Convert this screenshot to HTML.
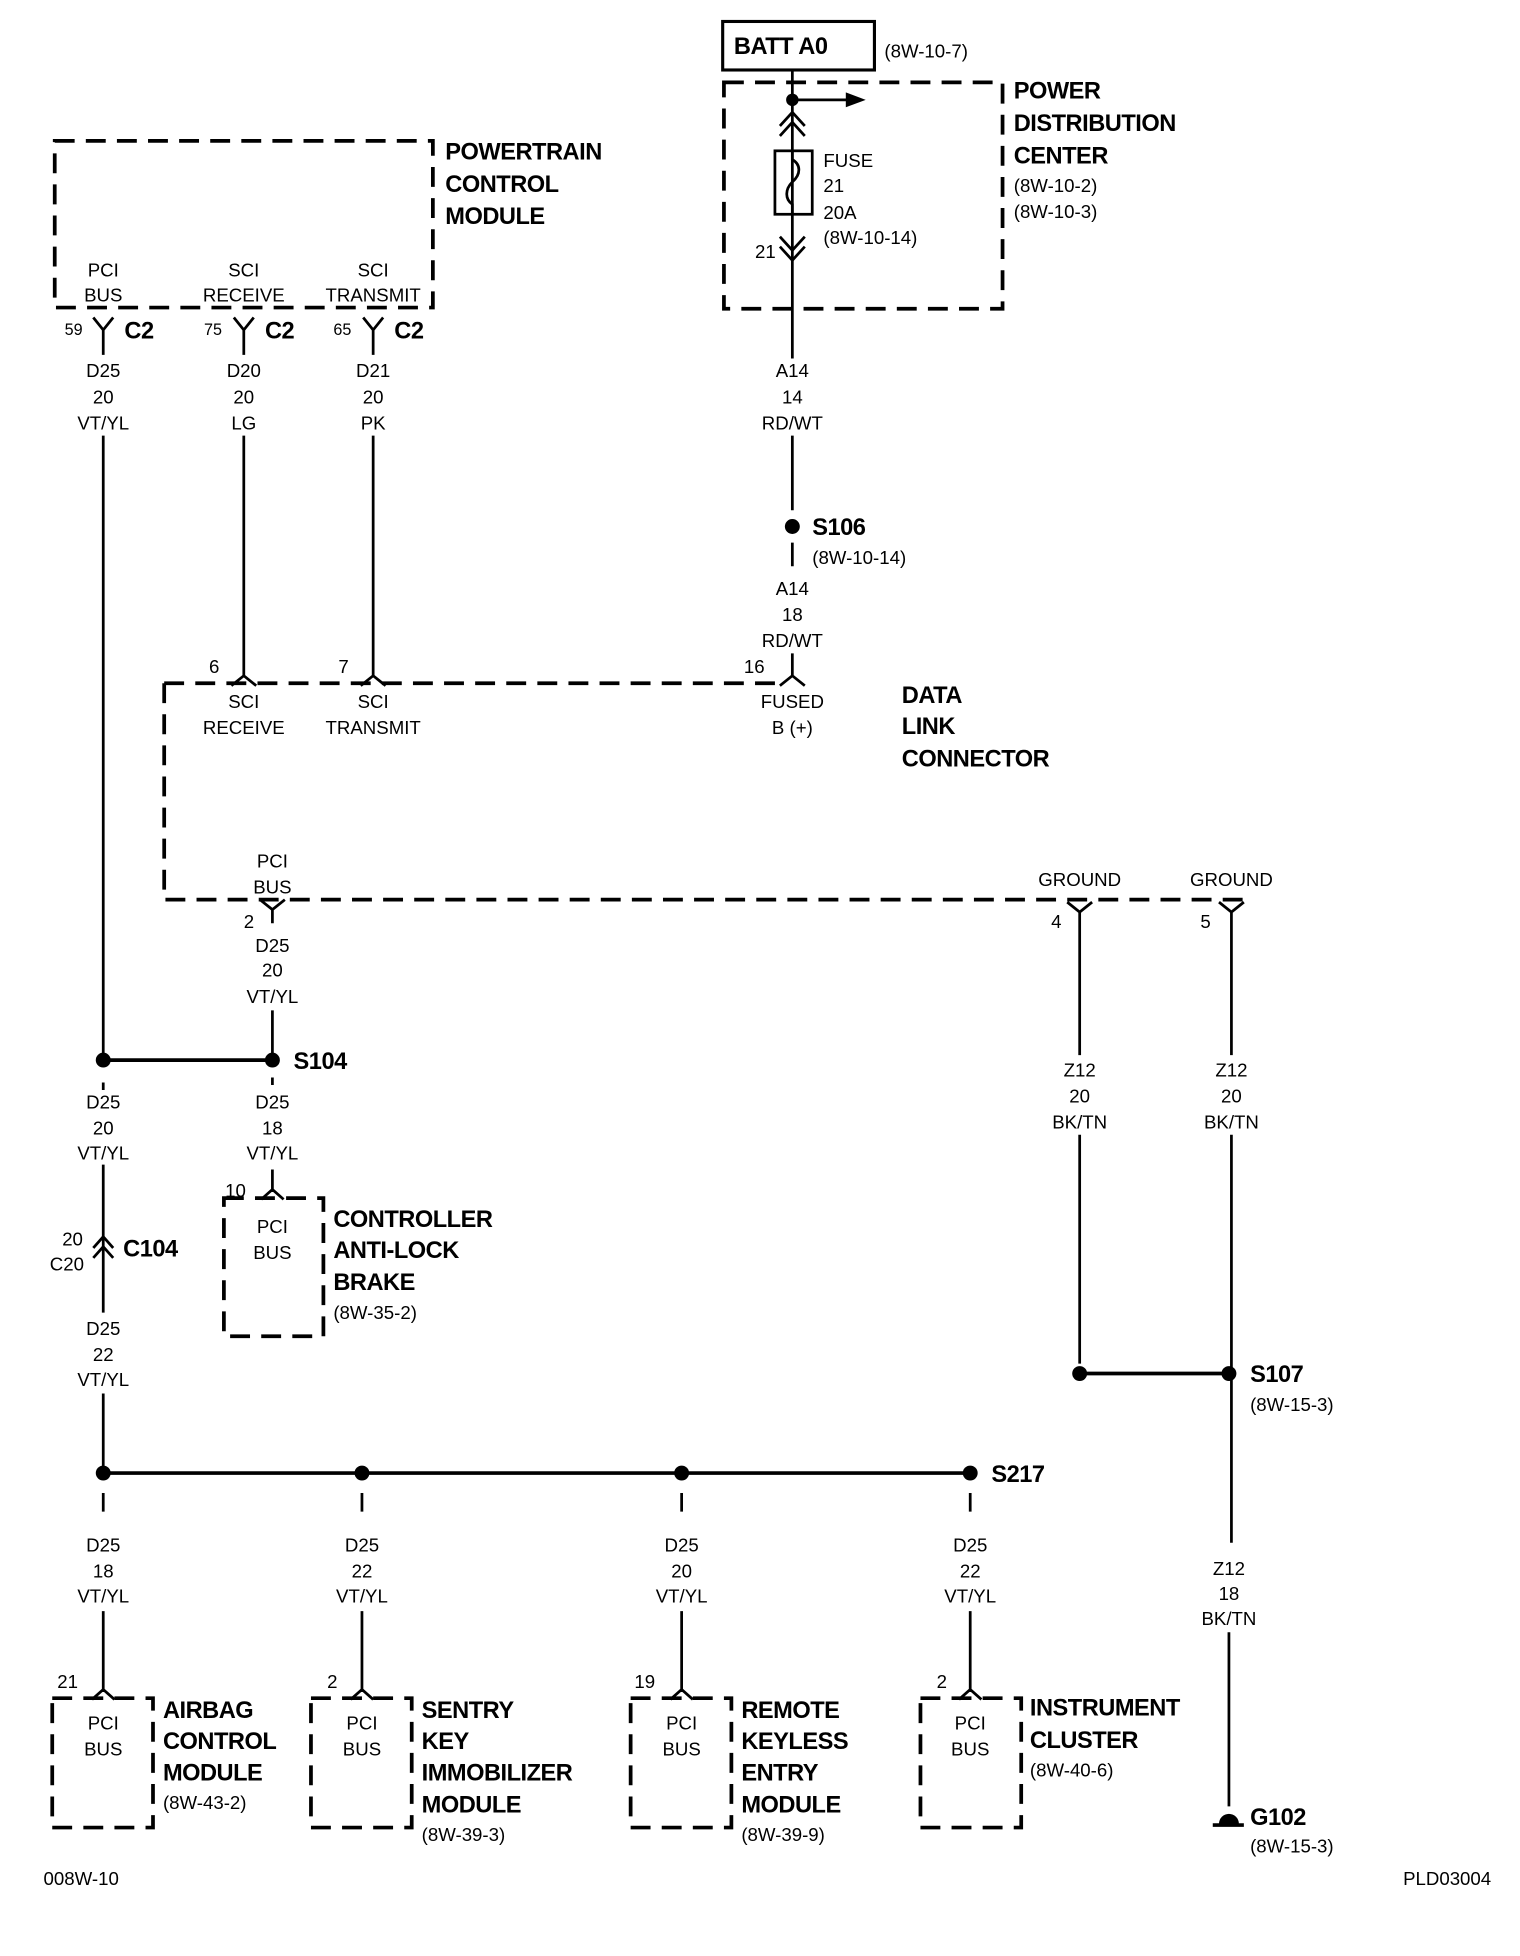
<!DOCTYPE html>
<html><head><meta charset="utf-8"><style>
html,body{margin:0;padding:0;background:#fff;}
svg{display:block;}
text{font-family:"Liberation Sans",sans-serif;fill:#000;}
.n{font-size:15px;}
.b{font-size:19px;font-weight:bold;letter-spacing:-0.4px;}
.c{text-anchor:middle;}
</style></head><body>
<svg width="1520" height="1956" viewBox="0 0 1222 1572" xmlns="http://www.w3.org/2000/svg">
<g fill="none" stroke="#000" stroke-width="2.2">
<g stroke-dasharray="16,9" stroke-width="3">
<rect x="44" y="113" width="304" height="134"/>
<rect x="582" y="66" width="224" height="182"/>
<path d="M132 549 H630 M132 549 V723 H1000"/>
<rect x="180" y="963" width="80" height="111"/>
<rect x="42" y="1365" width="81" height="104"/>
<rect x="250" y="1365" width="81" height="104"/>
<rect x="507" y="1365" width="81" height="104"/>
<rect x="740" y="1365" width="81" height="104"/>
</g>
<rect x="581" y="17" width="122" height="39" stroke-width="2.5"/>
<path d="M75 255 L83 265 L91 255 M83 265 V285"/>
<path d="M188 255 L196 265 L204 255 M196 265 V285"/>
<path d="M292 255 L300 265 L308 255 M300 265 V285"/>
<path d="M83 350 V852 M83 870 V876 M83 936 V1055 M83 1120 V1184"/>
<path d="M196 350 V543 M186 551 L196 543 L206 551"/>
<path d="M300 350 V543 M290 551 L300 543 L310 551"/>
<path d="M637 56 V288 M637 350 V410 M637 436 V455 M637 525 V543 M627 551 L637 543 L647 551"/>
<path d="M637 80 H690"/>
<path d="M627 101 L637 90 L647 101 M627 109 L637 98 L647 109"/>
<path d="M627 190 L637 201 L647 190 M627 198 L637 209 L647 198"/>
<path d="M209 723 L219 731 L229 723 M219 731 V742 M219 812 V852"/>
<path d="M83 852 H219" stroke-width="3"/>
<path d="M219 866 V872 M219 940 V958 M210 964 L219 956 L228 964"/>
<path d="M75 1003 L83 994 L91 1003 M75 1011 L83 1002 L91 1011"/>
<path d="M83 1184 H780" stroke-width="3"/>
<path d="M83 1200 V1215 M83 1295 V1360 M74 1366 L83 1358 L92 1366"/>
<path d="M291 1200 V1215 M291 1295 V1360 M282 1366 L291 1358 L300 1366"/>
<path d="M548 1200 V1215 M548 1295 V1360 M539 1366 L548 1358 L557 1366"/>
<path d="M780 1200 V1215 M780 1295 V1360 M771 1366 L780 1358 L789 1366"/>
<path d="M858 725 L868 733 L878 725 M868 733 V848 M868 912 V1096"/>
<path d="M980 725 L990 733 L1000 725 M990 733 V848 M990 912 V1240 M988 1312 V1452"/>
<path d="M868 1104 H988" stroke-width="3"/>
<rect x="623" y="121" width="30" height="51"/>
<path d="M637 121 V128 C644 132 644 140 637 146 C631 152 631 160 637 164 V172"/>
<path d="M975 1467 H1000" stroke-width="3"/>
</g>
<g fill="#000">
<circle cx="637" cy="80" r="5"/>
<path d="M680 74 L696 80 L680 86Z"/>
<circle cx="637" cy="423" r="6"/>
<circle cx="83" cy="852" r="6"/><circle cx="219" cy="852" r="6"/>
<circle cx="83" cy="1184" r="6"/><circle cx="291" cy="1184" r="6"/><circle cx="548" cy="1184" r="6"/><circle cx="780" cy="1184" r="6"/>
<circle cx="868" cy="1104" r="6"/><circle cx="988" cy="1104" r="6"/>
<path d="M980 1466 A8 8 0 0 1 996 1466Z"/>
</g>
<text class="b" x="590" y="43">BATT A0</text>
<text class="n" x="711" y="46">(8W-10-7)</text>
<text class="b" x="815" y="79">POWER</text>
<text class="b" x="815" y="105">DISTRIBUTION</text>
<text class="b" x="815" y="131">CENTER</text>
<text class="n" x="815" y="154">(8W-10-2)</text>
<text class="n" x="815" y="175">(8W-10-3)</text>
<text class="n" x="662" y="134">FUSE</text>
<text class="n" x="662" y="154">21</text>
<text class="n" x="662" y="176">20A</text>
<text class="n" x="662" y="196">(8W-10-14)</text>
<text class="n" x="607" y="207">21</text>
<text class="b" x="358" y="128">POWERTRAIN</text>
<text class="b" x="358" y="154">CONTROL</text>
<text class="b" x="358" y="180">MODULE</text>
<g class="n c">
<text x="83" y="222">PCI</text><text x="83" y="242">BUS</text>
<text x="196" y="222">SCI</text><text x="196" y="242">RECEIVE</text>
<text x="300" y="222">SCI</text><text x="300" y="242">TRANSMIT</text>
<text x="83" y="303">D25</text><text x="83" y="324">20</text><text x="83" y="345">VT/YL</text>
<text x="196" y="303">D20</text><text x="196" y="324">20</text><text x="196" y="345">LG</text>
<text x="300" y="303">D21</text><text x="300" y="324">20</text><text x="300" y="345">PK</text>
<text x="637" y="303">A14</text><text x="637" y="324">14</text><text x="637" y="345">RD/WT</text>
<text x="637" y="478">A14</text><text x="637" y="499">18</text><text x="637" y="520">RD/WT</text>
<text x="196" y="569">SCI</text><text x="196" y="590">RECEIVE</text>
<text x="300" y="569">SCI</text><text x="300" y="590">TRANSMIT</text>
<text x="637" y="569">FUSED</text><text x="637" y="590">B (+)</text>
<text x="219" y="697">PCI</text><text x="219" y="718">BUS</text>
<text x="868" y="712">GROUND</text><text x="990" y="712">GROUND</text>
<text x="219" y="765">D25</text><text x="219" y="785">20</text><text x="219" y="806">VT/YL</text>
<text x="83" y="891">D25</text><text x="83" y="912">20</text><text x="83" y="932">VT/YL</text>
<text x="219" y="891">D25</text><text x="219" y="912">18</text><text x="219" y="932">VT/YL</text>
<text x="868" y="865">Z12</text><text x="868" y="886">20</text><text x="868" y="907">BK/TN</text>
<text x="990" y="865">Z12</text><text x="990" y="886">20</text><text x="990" y="907">BK/TN</text>
<text x="219" y="991">PCI</text><text x="219" y="1012">BUS</text>
<text x="83" y="1073">D25</text><text x="83" y="1094">22</text><text x="83" y="1114">VT/YL</text>
<text x="83" y="1247">D25</text><text x="83" y="1268">18</text><text x="83" y="1288">VT/YL</text>
<text x="291" y="1247">D25</text><text x="291" y="1268">22</text><text x="291" y="1288">VT/YL</text>
<text x="548" y="1247">D25</text><text x="548" y="1268">20</text><text x="548" y="1288">VT/YL</text>
<text x="780" y="1247">D25</text><text x="780" y="1268">22</text><text x="780" y="1288">VT/YL</text>
<text x="988" y="1266">Z12</text><text x="988" y="1286">18</text><text x="988" y="1306">BK/TN</text>
<text x="83" y="1390">PCI</text><text x="83" y="1411">BUS</text>
<text x="291" y="1390">PCI</text><text x="291" y="1411">BUS</text>
<text x="548" y="1390">PCI</text><text x="548" y="1411">BUS</text>
<text x="780" y="1390">PCI</text><text x="780" y="1411">BUS</text>
</g>
<text class="n" x="52" y="269" style="font-size:13px">59</text><text class="b" x="100" y="272">C2</text>
<text class="n" x="164" y="269" style="font-size:13px">75</text><text class="b" x="213" y="272">C2</text>
<text class="n" x="268" y="269" style="font-size:13px">65</text><text class="b" x="317" y="272">C2</text>
<text class="b" x="653" y="430">S106</text>
<text class="n" x="653" y="453">(8W-10-14)</text>
<text class="n" x="168" y="541">6</text><text class="n" x="272" y="541">7</text><text class="n" x="598" y="541">16</text>
<text class="b" x="725" y="565">DATA</text>
<text class="b" x="725" y="590">LINK</text>
<text class="b" x="725" y="616">CONNECTOR</text>
<text class="n" x="196" y="746">2</text>
<text class="n" x="845" y="746">4</text><text class="n" x="965" y="746">5</text>
<text class="b" x="236" y="859">S104</text>
<text class="n" x="181" y="962">10</text>
<text class="b" x="268" y="986">CONTROLLER</text>
<text class="b" x="268" y="1011">ANTI-LOCK</text>
<text class="b" x="268" y="1037">BRAKE</text>
<text class="n" x="268" y="1060">(8W-35-2)</text>
<text class="n" x="50" y="1001">20</text><text class="n" x="40" y="1021">C20</text>
<text class="b" x="99" y="1010">C104</text>
<text class="b" x="1005" y="1111">S107</text>
<text class="n" x="1005" y="1134">(8W-15-3)</text>
<text class="b" x="797" y="1191">S217</text>
<text class="n" x="46" y="1357">21</text><text class="n" x="263" y="1357">2</text>
<text class="n" x="510" y="1357">19</text><text class="n" x="753" y="1357">2</text>
<text class="b" x="131" y="1381">AIRBAG</text><text class="b" x="131" y="1406">CONTROL</text><text class="b" x="131" y="1431">MODULE</text><text class="n" x="131" y="1454">(8W-43-2)</text>
<text class="b" x="339" y="1381">SENTRY</text><text class="b" x="339" y="1406">KEY</text><text class="b" x="339" y="1431">IMMOBILIZER</text><text class="b" x="339" y="1457">MODULE</text><text class="n" x="339" y="1480">(8W-39-3)</text>
<text class="b" x="596" y="1381">REMOTE</text><text class="b" x="596" y="1406">KEYLESS</text><text class="b" x="596" y="1431">ENTRY</text><text class="b" x="596" y="1457">MODULE</text><text class="n" x="596" y="1480">(8W-39-9)</text>
<text class="b" x="828" y="1379">INSTRUMENT</text><text class="b" x="828" y="1405">CLUSTER</text><text class="n" x="828" y="1428">(8W-40-6)</text>
<text class="b" x="1005" y="1467">G102</text>
<text class="n" x="1005" y="1489">(8W-15-3)</text>
<text class="n" x="35" y="1515">008W-10</text>
<text class="n" x="1128" y="1515">PLD03004</text>
</svg>
</body></html>
